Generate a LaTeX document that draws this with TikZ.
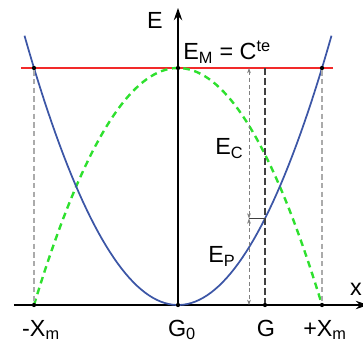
\documentclass[tikz,border=0pt]{standalone}
\usepackage{fontspec}
\setmainfont{Liberation Sans}
\usetikzlibrary{arrows.meta,positioning,calc}
\definecolor{CurveBlue}{HTML}{3C56A6}
\definecolor{KineticGreen}{HTML}{2EE02E}
\definecolor{LevelRed}{HTML}{F22A2A}
\definecolor{GuideGray}{HTML}{ABABAB}
\definecolor{MarkGray}{HTML}{404040}
\tikzset{
  axis/.style={line width=1.2pt, black, -{Stealth[length=3.2mm, width=2.2mm]}},
  level/.style={line width=1.2pt, LevelRed},
  potential/.style={line width=1.3pt, CurveBlue},
  kinetic/.style={line width=1.8pt, KineticGreen, dash pattern=on 5pt off 3.5pt},
  guide/.style={line width=1.1pt, GuideGray, dash pattern=on 4pt off 2.5pt},
  position/.style={line width=1.4pt, MarkGray, dash pattern=on 5pt off 2.5pt},
  share/.style={line width=0.5pt, gray, dash pattern=on 3pt off 2pt,
    {Stealth[length=1.4mm, width=1mm]}-{Stealth[length=1.4mm, width=1mm]}},
  dot/.style={circle, fill=black, inner sep=0pt, minimum size=3.2pt},
  lbl/.style={font=\fontsize{17.5}{20}\selectfont, inner sep=0pt}
}
\begin{document}
\begin{tikzpicture}[x=0.75pt, y=0.75pt]
  \useasboundingbox (-178,-37) rectangle (185,305);
  % axes
  \coordinate (G0) at (0,0);
  \coordinate (xend) at (190,0);
  \coordinate (yend) at (0,297);
  \draw[axis] (-164,0) -- (xend);
  \draw[axis] (G0) -- (yend);
  % total energy
  \coordinate (ml) at (-157,237);
  \coordinate (mr) at (155,237);
  \draw[level] (ml) -- (mr);
  % curves
  \draw[kinetic] plot[domain=-144:144, samples=80] (\x, {237*(1-(\x/144)^2)});
  \draw[potential] plot[domain=-153.5:153.5, samples=80] (\x, {237*(\x/144)^2});
  % amplitudes
  \node[dot] (tl) at (-144,237) {};
  \node[dot] (tm) at (0,237) {};
  \node[dot] (tr) at (144,237) {};
  \node[dot] (bl) at (-144,0) {};
  \node[dot] (bm) at (G0) {};
  \node[dot] (bg) at (87,0) {};
  \node[dot] (br) at (144,0) {};
  \draw[guide] (tl) -- (bl);
  \draw[guide] (tr) -- (br);
  % position G
  \coordinate (gt) at (87,237);
  \draw[position] (gt) -- (bg);
  \coordinate (gp) at (87,{237*(87/144)^2});
  \coordinate (sp) at (71,{237*(87/144)^2});
  \coordinate (st) at (71,237);
  \coordinate (sb) at (71,0);
  \draw[line width=1pt, MarkGray] (sp) -- (gp);
  \draw[share] (st) -- (sp);
  \draw[share] (sp) -- (sb);
  % labels
  \node[lbl] (elab) at (-23,285) {E};
  \node[lbl] (xlab) at (178,16) {x};
  \node[lbl, anchor=base west] (em) at (5,245) {E\textsubscript{M} = C\textsuperscript{te}};
  \node[lbl, anchor=base west] (ec) at (37,150) {E\textsubscript{C}};
  \node[lbl, anchor=base west] (ep) at (30,42) {E\textsubscript{P}};
  \node[lbl, anchor=base] (xm1) at (-137,-31) {-X\textsubscript{m}};
  \node[lbl, anchor=base] (g0) at (4,-31) {G\textsubscript{0}};
  \node[lbl, anchor=base] (g) at (88,-31) {G};
  \node[lbl, anchor=base] (xm2) at (147,-31) {+X\textsubscript{m}};
\end{tikzpicture}
\end{document}
